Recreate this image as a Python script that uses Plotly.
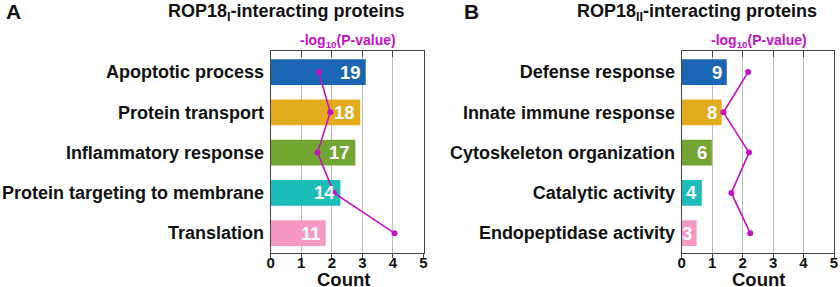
import plotly.graph_objects as go

# Panel A data
cats_a = ["Apoptotic process", "Protein transport", "Inflammatory response",
          "Protein targeting to membrane", "Translation"]
counts_a = [19, 18, 17, 14, 11]
bar_len_a = [3.11, 2.93, 2.77, 2.28, 1.80]
logp_a = [1.57, 1.95, 1.53, 2.07, 4.05]

# Panel B data
cats_b = ["Defense response", "Innate immune response", "Cytoskeleton organization",
          "Catalytic activity", "Endopeptidase activity"]
counts_b = [9, 8, 6, 4, 3]
bar_len_b = [1.48, 1.31, 0.99, 0.66, 0.49]
logp_b = [2.18, 1.37, 2.21, 1.63, 2.25]

ticks = [0, 1, 2, 3, 4, 5]
colors = ["#1a66b3", "#e4aa1e", "#73a533", "#1cbdb8", "#f598c4"]
magenta = "#c312c3"
FONT = "Liberation Sans, Arial, sans-serif"

fig = go.Figure()

panels = [
    dict(cats=cats_a, counts=counts_a, lens=bar_len_a, logp=logp_a,
         x="x", y="y", xt="x3", dom=[270.7 / 840, 423.5 / 840]),
    dict(cats=cats_b, counts=counts_b, lens=bar_len_b, logp=logp_b,
         x="x2", y="y2", xt="x4", dom=[681.7 / 840, 834 / 840]),
]

ydom = [1 - 252.5 / 287, 1 - 50.7 / 287]
annotations = []

for p in panels:
    fig.add_trace(go.Bar(
        x=p["lens"], y=p["cats"], orientation="h", width=0.64,
        marker=dict(color=colors, line=dict(width=0)),
        xaxis=p["x"], yaxis=p["y"], showlegend=False, hoverinfo="skip"))
    fig.add_trace(go.Scatter(
        x=p["logp"], y=p["cats"], mode="lines+markers",
        line=dict(color=magenta, width=1.6),
        marker=dict(color=magenta, size=6),
        xaxis=p["xt"], yaxis=p["y"], showlegend=False, hoverinfo="skip"))
    for c, n, l in zip(p["cats"], p["counts"], p["lens"]):
        annotations.append(dict(
            x=l, y=c, xref=p["x"], yref=p["y"], text=str(n), showarrow=False,
            xanchor="right", xshift=-3, yshift=0,
            font=dict(family=FONT, size=18.5, color="white", weight="bold")))

common_x = dict(range=[0, 5], tickvals=ticks, showline=True, linecolor="#444",
                linewidth=1.3, mirror=True, showgrid=True, gridcolor="#bdbdbd",
                gridwidth=1, zeroline=False, ticks="outside", ticklen=4,
                tickcolor="#444", automargin=False, ticklabelstandoff=-8,
                tickfont=dict(family=FONT, size=15, color="#111", weight="bold"))
common_top = dict(range=[0, 5], tickvals=ticks, showline=False, showgrid=False,
                  zeroline=False, ticks="inside", ticklen=6, tickcolor="#444",
                  showticklabels=False, side="top", automargin=False)
common_y = dict(type="category", range=[4.48, -0.53], showline=True, linecolor="#444",
                linewidth=1.3, mirror=True, showgrid=False, zeroline=False, ticks="",
                ticklabelstandoff=2, automargin=False,
                tickfont=dict(family=FONT, size=18, color="#111", weight="bold"))

fig.update_layout(
    width=840, height=287, margin=dict(l=0, r=0, t=0, b=0, autoexpand=False),
    plot_bgcolor="white", paper_bgcolor="white", bargap=0.36,
    xaxis=dict(domain=panels[0]["dom"], anchor="y", **common_x),
    xaxis2=dict(domain=panels[1]["dom"], anchor="y2", **common_x),
    xaxis3=dict(overlaying="x", anchor="y", **common_top),
    xaxis4=dict(overlaying="x2", anchor="y2", **common_top),
    yaxis=dict(domain=ydom, anchor="x", categoryarray=cats_a, **common_y),
    yaxis2=dict(domain=ydom, anchor="x2", categoryarray=cats_b, **common_y),
)

title_font = dict(family=FONT, size=18, color="#111", weight="bold")
lbl_font = dict(family=FONT, size=14, color=magenta, weight="bold")
letter_font = dict(family=FONT, size=21, color="#111", weight="bold")
count_font = dict(family=FONT, size=18.5, color="#111", weight="bold")

annotations += [
    dict(x=4 / 840, y=1 - 12 / 287, xref="paper", yref="paper", text="A",
         showarrow=False, xanchor="left", yanchor="middle", font=letter_font),
    dict(x=462 / 840, y=1 - 12 / 287, xref="paper", yref="paper", text="B",
         showarrow=False, xanchor="left", yanchor="middle", font=letter_font),
    dict(x=286 / 840, y=1 - 13 / 287, xref="paper", yref="paper",
         text="ROP18<sub>I</sub>-interacting proteins",
         showarrow=False, xanchor="center", yanchor="middle", font=title_font),
    dict(x=697 / 840, y=1 - 13 / 287, xref="paper", yref="paper",
         text="ROP18<sub>II</sub>-interacting proteins",
         showarrow=False, xanchor="center", yanchor="middle", font=title_font),
    dict(x=348 / 840, y=1 - 41 / 287, xref="paper", yref="paper",
         text="-log<sub>10</sub>(P-value)",
         showarrow=False, xanchor="center", yanchor="middle", font=lbl_font),
    dict(x=759 / 840, y=1 - 41 / 287, xref="paper", yref="paper",
         text="-log<sub>10</sub>(P-value)",
         showarrow=False, xanchor="center", yanchor="middle", font=lbl_font),
    dict(x=343 / 840, y=1 - 279.5 / 287, xref="paper", yref="paper", text="Count",
         showarrow=False, xanchor="center", yanchor="middle", font=count_font),
    dict(x=758 / 840, y=1 - 279.5 / 287, xref="paper", yref="paper", text="Count",
         showarrow=False, xanchor="center", yanchor="middle", font=count_font),
]
fig.update_layout(annotations=annotations)

fig.write_html("out.html", config={"displayModeBar": False},
               post_script="document.body.style.margin='0';"
                           "document.body.style.overflow='hidden';")
